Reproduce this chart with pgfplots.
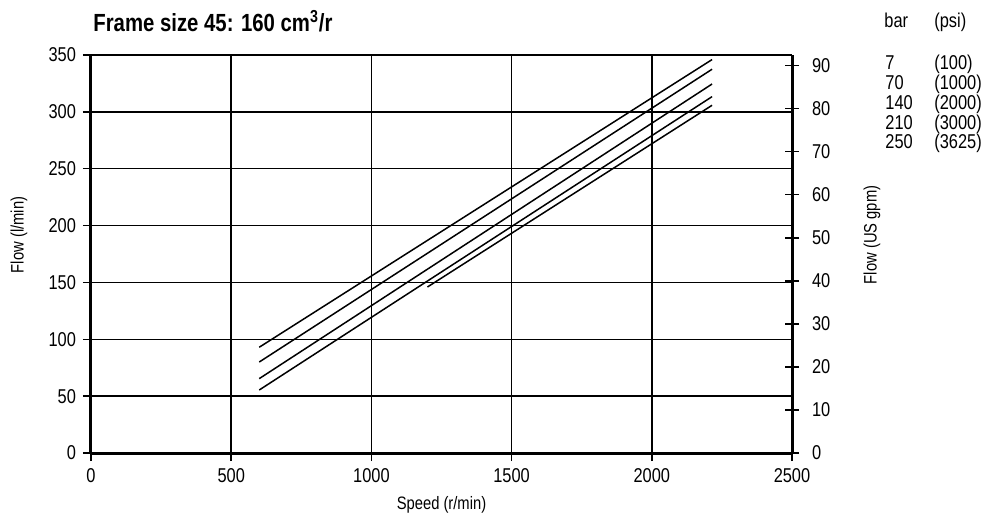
\documentclass[border=0pt]{standalone}
\usepackage{pgfplots}
\pgfplotsset{compat=1.18}
\usepackage{fontspec}
\setmainfont{Liberation Sans}[FakeStretch=0.82]
\begin{document}
\begin{tikzpicture}
\useasboundingbox (-45.5pt,-34pt) rectangle (447pt,226.5pt);
\begin{axis}[
  name=ax,
  at={(0,0)}, anchor=south west,
  scale only axis, width=350.5pt, height=199pt,
  xmin=0, xmax=2500, ymin=0, ymax=350,
  xtick={0,500,...,2500}, ytick={0,50,...,350},
  axis x line=bottom, axis y line=left,
  axis line style={-, line width=1.5pt},
  tick align=outside, major tick length=4pt,
  tick style={black, line width=0.75pt},
  grid=major, major grid style={black, line width=0.75pt},
  /pgf/number format/assume math mode=true,
  /pgf/number format/1000 sep={},
  ticklabel style={font=\normalsize},
  xlabel={Speed (r/min)}, ylabel={Flow (l/min)},
  label style={font=\small},
  xlabel style={at={(axis description cs:0.5,-0.131)}, anchor=center},
  ylabel style={at={(axis description cs:-0.1027,0.548)}, anchor=center},
  clip=false,
]
\addplot[black, line width=0.75pt] coordinates {(600,93) (2215,346)};
\addplot[black, line width=0.75pt] coordinates {(600,80) (2215,337.5)};
\addplot[black, line width=0.75pt] coordinates {(600,65.4) (2215,324.5)};
\addplot[black, line width=0.75pt] coordinates {(600,55.4) (2215,313.4)};
\addplot[black, line width=0.75pt] coordinates {(1200,146) (2215,305.8)};
\end{axis}
\begin{axis}[
  at={(0,0)}, anchor=south west,
  scale only axis, width=350.5pt, height=199pt,
  xmin=0, xmax=2500, ymin=0, ymax=92.46,
  ytick={0,10,...,90},
  axis x line=none, axis y line*=right,
  axis line style={-, line width=1.5pt},
  tick align=center, major tick length=7pt,
  tick style={black, line width=0.75pt},
  /pgf/number format/assume math mode=true,
  ticklabel style={font=\normalsize},
  yticklabel style={xshift=3pt},
  ylabel={Flow (US gpm)},
  label style={font=\small},
  ylabel style={at={(axis description cs:1.114,0.548)}, anchor=center},
]
\end{axis}
\node[anchor=west, inner sep=0pt, font=\bfseries\fontsize{12.4}{15}\selectfont] at (1pt,216pt) {Frame size 45: 160 cm\textsuperscript{3}/r};
\begin{scope}[every node/.style={anchor=base west, font=\normalsize, inner sep=0pt}]
\node at (396.5pt,213pt) {bar};
\node at (421.5pt,213pt) {(psi)};
\node at (397pt,192pt) {7};
\node at (421.5pt,192pt) {(100)};
\node at (397pt,182pt) {70};
\node at (421.5pt,182pt) {(1000)};
\node at (397pt,172pt) {140};
\node at (421.5pt,172pt) {(2000)};
\node at (397pt,162pt) {210};
\node at (421.5pt,162pt) {(3000)};
\node at (397pt,152.5pt) {250};
\node at (421.5pt,152.5pt) {(3625)};
\end{scope}
\end{tikzpicture}
\end{document}
